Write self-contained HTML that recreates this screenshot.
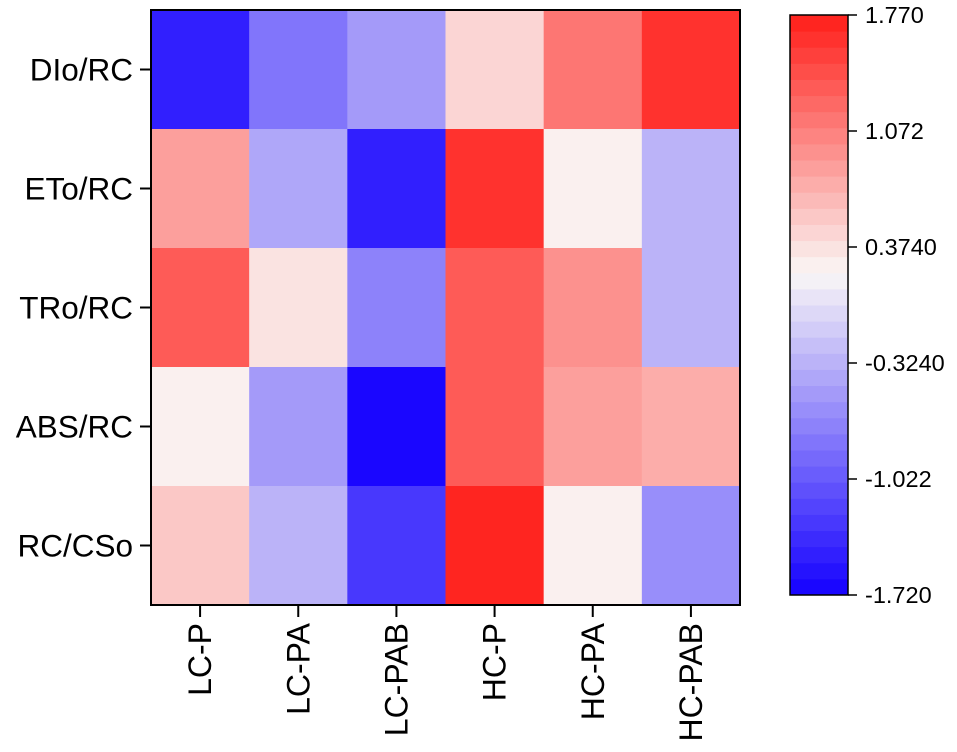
<!DOCTYPE html>
<html><head><meta charset="utf-8"><style>
body{margin:0;background:#fff;}
svg{display:block;font-family:"Liberation Sans",Arial,sans-serif;}
</style></head><body>
<svg id="chart" width="957" height="752"></svg>
<script>
const rows=["DIo/RC","ETo/RC","TRo/RC","ABS/RC","RC/CSo"];
const cols=["LC-P","LC-PA","LC-PAB","HC-P","HC-PA","HC-PAB"];
const valDIo=[-1.5,-0.8,-0.5,0.5,1.1,1.6];
const valETo=[0.85,-0.45,-1.45,1.65,0.25,-0.35];
const valTRo=[1.3,0.4,-0.75,1.3,0.9,-0.35];
const valABS=[0.25,-0.5,-1.72,1.3,0.85,0.8];
const valRCCSo=[0.55,-0.35,-1.25,1.77,0.25,-0.6];
const cbTicks=[1.770,1.072,0.3740,-0.3240,-1.022,-1.720];
const cbTickLabels=["1.770","1.072","0.3740","-0.3240","-1.022","-1.720"];
const vMin=-1.72,vMax=1.77,vMid=0.22,nBands=36;

const svg=document.getElementById('chart');
const NS="http://www.w3.org/2000/svg";
function mk(t,a,p){const e=document.createElementNS(NS,t);for(const k in a)e.setAttribute(k,a[k]);(p||svg).appendChild(e);return e;}
const L=151,T=10,R=740,B=605;
const cw=(R-L)/cols.length,rh=(B-T)/rows.length;
function xPos(i){return L+i*cw;}
function yPos(j){return T+j*rh;}
function quant(v){const b=Math.min(nBands-1,Math.max(0,Math.floor((v-vMin)/(vMax-vMin)*nBands)));return vMin+(b+0.5)*(vMax-vMin)/nBands;}
function color(v){
  v=quant(v);
  const bl=[20,0,255],wh=[250,247,246],rd=[255,30,25];
  let a,b,t;
  if(v<vMid){a=bl;b=wh;t=(v-vMin)/(vMid-vMin);}else{a=wh;b=rd;t=(v-vMid)/(vMax-vMid);}
  const c=a.map((x,i)=>Math.round(x+(b[i]-x)*t));
  return `rgb(${c[0]},${c[1]},${c[2]})`;
}
const data=[valDIo,valETo,valTRo,valABS,valRCCSo];
data.forEach((row,j)=>row.forEach((v,i)=>{
  const r=mk('rect',{x:xPos(i),y:yPos(j),width:cw+0.5,height:rh+0.5,fill:color(v)});
  
  
}));
const fr=mk('rect',{x:L,y:T,width:R-L,height:B-T,fill:'none',stroke:'#000','stroke-width':2});


rows.forEach((r,j)=>{
  const yc=yPos(j)+rh/2;
  const tk=mk('line',{x1:140,x2:L,y1:yc,y2:yc,stroke:'#000','stroke-width':2});
  
  
  const t=mk('text',{x:133,y:yc+11,'text-anchor':'end','font-size':31.5,fill:'#000'});
  t.textContent=r;
  
  
});
cols.forEach((c,i)=>{
  const xc=xPos(i)+cw/2;
  const tk=mk('line',{x1:xc,x2:xc,y1:B,y2:B+12,stroke:'#000','stroke-width':2});
  
  
  const t=mk('text',{x:0,y:0,'text-anchor':'end','font-size':32,fill:'#000',transform:`translate(${xc+11},${B+18}) rotate(-90)`});
  t.textContent=c;
  
  
});
const cL=790,cR=848,cT=15,cB=595;
function cbY(v){return cB-(v-vMin)/(vMax-vMin)*(cB-cT);}
for(let b=0;b<nBands;b++){
  const v0=vMin+b*(vMax-vMin)/nBands,v1=vMin+(b+1)*(vMax-vMin)/nBands;
  const r=mk('rect',{x:cL,y:cbY(v1),width:cR-cL,height:cbY(v0)-cbY(v1)+0.5,fill:color((v0+v1)/2)});
  
  
}
const cf=mk('rect',{x:cL,y:cT,width:cR-cL,height:cB-cT,fill:'none',stroke:'#000','stroke-width':1.5});


cbTicks.forEach((v,k)=>{
  const y=cbY(v);
  const tk=mk('line',{x1:cR,x2:cR+9,y1:y,y2:y,stroke:'#000','stroke-width':1.5});
  
  
  const t=mk('text',{x:cR+17,y:y+8,'font-size':23.5,fill:'#000'});
  t.textContent=cbTickLabels[k];
  
  
});
</script>
</body></html>
